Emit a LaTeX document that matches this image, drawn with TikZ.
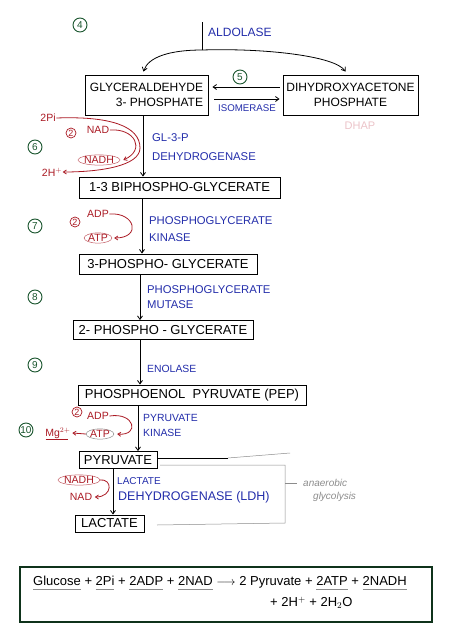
\documentclass[tikz,border=0pt]{standalone}
\usepackage{fontspec}
\setmainfont{Liberation Sans}
\usetikzlibrary{arrows.meta,calc,shapes.geometric}
\definecolor{inkblue}{RGB}{35,45,170}
\definecolor{inkred}{RGB}{170,25,35}
\definecolor{inkgreen}{RGB}{25,85,45}
\definecolor{pencil}{RGB}{140,140,140}
\definecolor{faintred}{RGB}{235,195,200}
\newsavebox\pulbox
\newcommand\penul[1]{\sbox\pulbox{#1}\rlap{\textcolor{pencil}{\rule[-4pt]{\wd\pulbox}{0.6pt}}}\usebox\pulbox}
\tikzset{
  box/.style={draw, line width=0.9pt, inner sep=2pt, font=\fontsize{13}{15}\selectfont},
  bigbox/.style={box, font=\fontsize{12}{15}\selectfont},
  enz/.style={text=inkblue, anchor=west, inner sep=0pt, font=\fontsize{11.3}{13}\selectfont},
  enzs/.style={enz, font=\fontsize{10.4}{12}\selectfont},
  cof/.style={text=inkred, inner sep=0.5pt, font=\fontsize{10.5}{12}\selectfont},
  stepnum/.style={draw=inkgreen, text=inkgreen, circle, line width=0.9pt, inner sep=0.6pt, minimum size=14pt, font=\fontsize{10}{11}\selectfont},
  redcirc/.style={draw=inkred, text=inkred, circle, line width=0.7pt, inner sep=0.3pt, minimum size=10pt, font=\fontsize{9}{10}\selectfont},
  ring/.style={ellipse, draw=inkred!70, line width=0.5pt, inner sep=0pt},
  arr/.style={-{Straight Barb[length=3.5pt,width=5pt]}, line width=0.8pt},
  redarr/.style={draw=inkred, -{Straight Barb[length=3pt,width=4pt]}, line width=0.8pt},
  redline/.style={draw=inkred, line width=0.8pt},
  pencilline/.style={draw=pencil, line width=0.5pt}
}
\begin{document}
\begin{tikzpicture}[x=1pt,y=-1pt]
\useasboundingbox (0,0) rectangle (449,635);

% ---------- boxes ----------
\node[bigbox, minimum width=123pt, minimum height=40pt, align=right] (g3p) at (146.5,95) {GLYCERALDEHYDE\\3- PHOSPHATE};
\node[bigbox, minimum width=135pt, minimum height=40pt, align=center] (dhap) at (350.5,95) {DIHYDROXYACETONE\\PHOSPHATE};
\node[box, minimum width=201pt, minimum height=21pt] (bpg) at (179.5,187.5) {1-3 BIPHOSPHO-GLYCERATE};
\node[box, minimum width=178pt, minimum height=20pt] (tpg) at (168,264) {3-PHOSPHO- GLYCERATE};
\node[box, minimum width=180pt, minimum height=19pt] (dpg) at (163,330) {2- PHOSPHO - GLYCERATE};
\node[box, minimum width=228pt, minimum height=20pt] (pep) at (192,395) {PHOSPHOENOL\ \ PYRUVATE (PEP)};
\node[box, minimum width=78pt, minimum height=17pt] (pyr) at (118,460) {PYRUVATE};
\node[box, minimum width=69pt, minimum height=17pt] (lac) at (109.5,523.5) {LACTATE};

% ---------- step numbers ----------
\node[stepnum] (s4) at (80,25) {4};
\node[stepnum] (s5) at (240,77) {5};
\node[stepnum] (s6) at (35,147) {6};
\node[stepnum] (s7) at (35,226) {7};
\node[stepnum] (s8) at (35,297) {8};
\node[stepnum] (s9) at (35,365) {9};
\node[stepnum, inner sep=0.2pt] (s10) at (26,430) {10};

% ---------- aldolase ----------
\coordinate (aldtop) at (202,22);
\coordinate (ald) at (202,50);
\draw[line width=0.8pt] (aldtop) -- (ald);
\node[enz, font=\fontsize{12}{14}\selectfont] (aldl) at (208,32) {ALDOLASE};
\draw[arr] (ald) .. controls (170,50) and (148,57) .. ($(g3p.north)+(-3,-3)$);
\draw[arr] (ald) .. controls (265,48) and (335,56) .. ($(dhap.north)+(-5,-3)$);

% ---------- isomerase ----------
\draw[arr, shorten <=3pt, shorten >=4pt] ([yshift=8pt]dhap.west) -- ([yshift=8pt]g3p.east);
\draw[arr, shorten <=6pt, shorten >=3pt] ([yshift=-4pt]g3p.east) -- ([yshift=-4pt]dhap.west);
\node[enzs, font=\fontsize{9.7}{11}\selectfont] (iso) at (218,108) {ISOMERASE};
\node[text=faintred, font=\fontsize{11}{12}\selectfont] (dhapnote) at (360,126) {DHAP};

% ---------- main chain ----------
\coordinate (c1) at (143,0);
\coordinate (c2) at (142,0);
\coordinate (c3) at (140,0);
\coordinate (c4) at (138,0);
\coordinate (c5) at (113,0);
\draw[arr] (g3p.south -| c1) -- (bpg.north -| c1);
\draw[arr] (bpg.south -| c2) -- (tpg.north -| c2);
\draw[arr] (tpg.south -| c3) -- (dpg.north -| c3);
\draw[arr] (dpg.south -| c3) -- (pep.north -| c3);
\draw[arr] (pep.south -| c4) -- (pyr.north -| c4);
\draw[arr] (pyr.south -| c5) -- (lac.north -| c5);

% ---------- enzymes ----------
\node[enz] (e6a) at (152,138) {GL-3-P};
\node[enz] (e6b) at (152,157) {DEHYDROGENASE};
\node[enz] (e7a) at (149,221) {PHOSPHOGLYCERATE};
\node[enz] (e7b) at (149,238) {KINASE};
\node[enz] (e8a) at (147,290) {PHOSPHOGLYCERATE};
\node[enz] (e8b) at (147,305) {MUTASE};
\node[enzs] (e9) at (147,369) {ENOLASE};
\node[enzs] (e10a) at (143,418) {PYRUVATE};
\node[enzs] (e10b) at (143,433) {KINASE};
\node[enzs, font=\fontsize{10}{12}\selectfont] (e11a) at (117,481) {LACTATE};
\node[enz, font=\fontsize{12.5}{14}\selectfont] (e11b) at (118,497) {DEHYDROGENASE (LDH)};

% ---------- step 6 cofactors ----------
\node[cof] (pi) at (48,118) {2Pi};
\node[redcirc] (r6) at (71,133) {2};
\node[cof] (nad1) at (98,130) {NAD};
\node[cof, ring] (nadh1) at (99,160) {NADH};
\node[cof] (h1) at (52,172) {2H$^{+}$};
\coordinate (m6) at (140,148);
\draw[redline] (pi.east) .. controls (110,116) and (140,126) .. (m6);
\draw[redarr] (nad1.east) .. controls (135,128) and (146,150) .. ([xshift=3pt]nadh1.east);
\draw[redarr] (m6) .. controls (140,166) and (100,172) .. (h1.east);

% ---------- step 7 cofactors ----------
\node[redcirc] (r7) at (75,222) {2};
\node[cof] (adp1) at (98,214) {ADP};
\node[cof, ring] (atp1) at (98,238) {ATP};
\draw[redarr] (adp1.east) .. controls (135,212) and (142,238) .. ([xshift=2pt]atp1.east);

% ---------- step 10 cofactors ----------
\node[redcirc] (r10) at (77,412) {2};
\node[cof] (adp2) at (98,416) {ADP};
\node[cof, ring, draw=pencil] (atp2) at (100,434) {ATP};
\node[cof] (mg) at (58,433) {Mg$^{2+}$};
\draw[redline] ($(mg.south west)+(1,0)$) -- ($(mg.south east)+(-3,0)$);
\draw[redarr] (adp2.east) .. controls (135,412) and (140,436) .. ([xshift=3pt]atp2.east);
\draw[redarr] (atp2.west) -- ([xshift=1pt]mg.east);

% ---------- LDH cofactors ----------
\node[cof, ring, draw=inkred!70] (nadh2) at (79,480) {NADH};
\node[cof] (nad2) at (81,497) {NAD};
\draw[redarr] ([xshift=-1pt]nadh2.east) .. controls (113,478) and (113,497) .. ([xshift=2pt]nad2.east);

% ---------- anaerobic bracket ----------
\coordinate (b1) at (228,458);
\coordinate (b2) at (160,465);
\coordinate (b3) at (285,465);
\coordinate (b4) at (285,523);
\coordinate (b5) at (157,525);
\coordinate (b6) at (297,483);
\draw[line width=0.8pt] (pyr.east |- b1) -- (b1);
\draw[pencilline] (b1) -- (290,453);
\draw[pencilline] (b2) -- (b3) -- (b4) -- (b5);
\draw[pencilline] (b3 |- b6) -- (b6);
\node[text=pencil, anchor=west, inner sep=0pt, font=\itshape\fontsize{10}{11}\selectfont] (ana) at (303,483) {anaerobic};
\node[text=pencil, anchor=west, inner sep=0pt, font=\itshape\fontsize{10}{11}\selectfont] (gly) at (313,497) {glycolysis};

% ---------- summary ----------
\node[draw=inkgreen!60!black, line width=1.1pt, minimum width=412pt, minimum height=55pt] (sum) at (226,594.5) {};
\node[anchor=west, inner sep=0pt, font=\fontsize{13}{15}\selectfont] (eq1) at (33,583) {\penul{Glucose} + \penul{2Pi} + \penul{2ADP} + \penul{2NAD} $\longrightarrow$ 2 Pyruvate + \penul{2ATP} + \penul{2NADH}};
\node[anchor=west, inner sep=0pt, font=\fontsize{13}{15}\selectfont] (eq2) at (270,603) {+ 2H$^{+}$ + 2H$_2$O};
\end{tikzpicture}
\end{document}
